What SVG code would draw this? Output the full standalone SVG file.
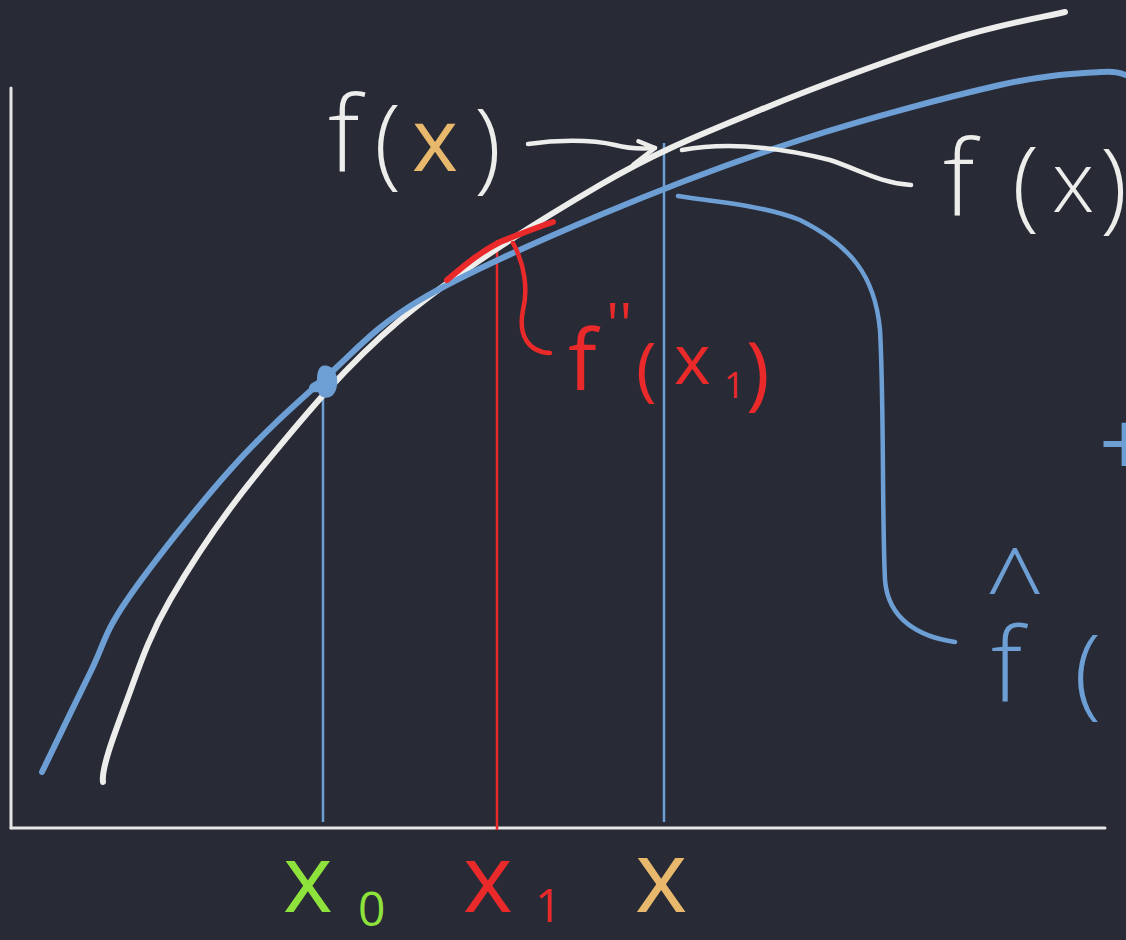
<svg xmlns="http://www.w3.org/2000/svg" width="1126" height="940" viewBox="0 0 1126 940">
<style>
  .bg{fill:#282a36}
  .axis{stroke:#e6e6e6;stroke-width:3;fill:none;stroke-linecap:round}
  .curve{fill:none;stroke-width:6;stroke-linecap:round;stroke-linejoin:round}
  .white{stroke:#ededeb}
  .blue{stroke:#6d9fd5}
  .red{stroke:#ea2a2a}
  .guide{fill:none;stroke-width:2.5}
  .conn{fill:none;stroke-width:4.5;stroke-linecap:round;stroke-linejoin:round}
  text{font-family:"Open Sans","Liberation Sans",sans-serif;font-weight:300}
  .bold{font-weight:400}
  .tw{fill:#ededeb}
  .tb{fill:#6d9fd5}
  .tr{fill:#ea2a2a}
  .tg{fill:#8ee23c}
  .to{fill:#e8b96c}
</style>
<defs>
  <marker id="chev" viewBox="0 0 30 30" refX="26" refY="10" markerWidth="30" markerHeight="30" markerUnits="userSpaceOnUse" orient="auto">
    <path d="M10,2 L26,10 L3,25" fill="none" stroke="#ededeb" stroke-width="4.5" stroke-linecap="round" stroke-linejoin="round"/>
  </marker>
</defs>
<rect class="bg" x="0" y="0" width="1126" height="940"/>

<g id="axes">
  <line class="axis" x1="11" y1="88" x2="11" y2="828"/>
  <line class="axis" x1="11" y1="828" x2="1105" y2="828"/>
</g>

<g id="guides">
  <line class="guide blue" x1="323" y1="380" x2="323" y2="822"/>
  <line class="guide red" x1="497" y1="240" x2="497" y2="830"/>
  <line class="guide blue" x1="664" y1="143" x2="664" y2="822"/>
</g>

<g id="curve-f">
  <path class="curve white" d="M103,782 C101,768 115.8,730.3 127,700 C138.2,669.7 147.8,638.3 170,600 C192.2,561.7 221.7,516.7 260,470 C298.3,423.3 343.3,367.5 400,320 C456.7,272.5 540,220 600,185 C660,150 701.7,134.2 760,110 C818.3,85.8 899.2,56.3 950,40 C1000.8,23.7 1045.8,16.7 1065,12"/>
</g>

<g id="curve-fhat">
  <path class="curve blue" d="M42,772 C50,755.5 75.8,701.7 90,673 C104.2,644.3 103.7,633.8 127,600 C150.3,566.2 197,507 230,470 C263,433 293.3,406.3 325,378 C356.7,349.7 374.2,327.2 420,300 C465.8,272.8 536.7,241.7 600,215 C663.3,188.3 733.3,161.7 800,140 C866.7,118.3 950,96.3 1000,85 C1050,73.7 1079,73.7 1100,72 C1121,70.3 1121.7,74.5 1126,75"/>
  <path id="x0-point" d="M322,366 C330,364 336,370 337,378 C338,386 336,394 330,397 C325,399 320,397 318,392 C313,393 308,391 309,387 C310,383 315,382 317,380 C317,374 318,368 322,366 Z" fill="#6d9fd5"/>
</g>

<g id="tangent-x1">
  <path class="curve red" stroke-width="5" d="M447,280 C465,265 480,252 500,242 C520,234 535,228 553,222"/>
</g>

<g id="connectors">
  <path class="conn white" marker-end="url(#chev)" d="M528,144 C555,140 590,139 615,145 C630,149 642,149 655,148"/>
  <path class="conn white" d="M682,150 C720,143 770,145 830,160 C860,170 880,183 911,185"/>
  <path class="conn blue" d="M678,196 C700,200 760,204 800,220 C850,245 875,275 880,330 C884,400 882,520 885,580 C888,620 920,637 955,642"/>
  <path class="conn red" d="M513,243 C525,265 528,290 523,310 C518,335 528,352 550,353"/>
</g>

<g id="label-fx-left">
  <text class="tw" x="328" y="172" font-size="105">f</text>
  <text class="tw" x="374" y="176" font-size="100">(</text>
  <text class="to bold" x="412" y="171" font-size="88">x</text>
  <text class="tw" x="474" y="180" font-size="100">)</text>
</g>

<g id="label-fx-right">
  <text class="tw" x="943" y="216" font-size="105">f</text>
  <text class="tw" x="1012" y="218" font-size="100">(</text>
  <text class="tw" x="1052" y="212" font-size="85">x</text>
  <text class="tw" x="1100" y="220" font-size="100">)</text>
</g>

<g id="label-fpp-x1">
  <text class="tr bold" x="568" y="390" font-size="85">f</text>
  <text class="tr bold" x="606" y="346" font-size="60">''</text>
  <text class="tr bold" x="636" y="393" font-size="70">(</text>
  <text class="tr bold" x="674" y="384" font-size="70">x</text>
  <text class="tr bold" x="724" y="398" font-size="36">1</text>
  <text class="tr bold" x="746" y="400" font-size="80">)</text>
</g>

<g id="label-fhat">
  <text class="tb" x="985" y="622" font-size="104">^</text>
  <text class="tb" x="991" y="702" font-size="104">f</text>
  <text class="tb" x="1074" y="706" font-size="100">(</text>
</g>

<g id="label-plus">
  <text class="tb bold" x="1099" y="476" font-size="90">+</text>
</g>

<g id="label-x0">
  <text class="tg bold" x="283" y="912" font-size="95">x</text>
  <text class="tg bold" x="358" y="926" font-size="48">0</text>
</g>

<g id="label-x1">
  <text class="tr bold" x="463" y="912" font-size="95">x</text>
  <text class="tr bold" x="535" y="922" font-size="46">1</text>
</g>

<g id="label-x">
  <text class="to bold" x="635" y="912" font-size="100">x</text>
</g>
</svg>
